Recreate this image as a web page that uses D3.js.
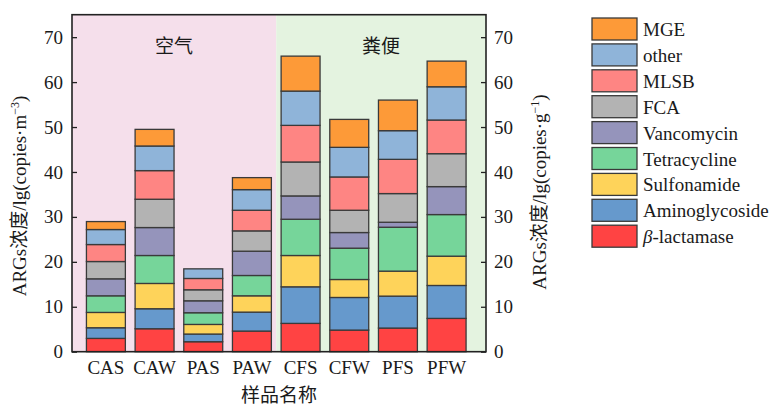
<!DOCTYPE html>
<html>
<head>
<meta charset="utf-8">
<script src="https://cdn.jsdelivr.net/npm/d3@7"></script>
<style>
  body { margin: 0; background: #fff; }
  svg text { font-family: "Times New Roman", "Liberation Serif", "DejaVu Serif", "Noto Sans CJK SC", serif; fill: #1a1a1a; }
</style>
</head>
<body>
<svg width="776" height="407"></svg>
<script>
const samples = ["CAS", "CAW", "PAS", "PAW", "CFS", "CFW", "PFS", "PFW"];
const categories = ["β-lactamase", "Aminoglycoside", "Sulfonamide", "Tetracycline", "Vancomycin", "FCA", "MLSB", "other", "MGE"];
const colors = ["#ff4343", "#6699cc", "#fed35a", "#76d59a", "#9594bb", "#b3b3b3", "#fe8583", "#8fb4d9", "#fd9a38"];

const betaLactamase  = [2.96, 5.11, 2.22, 4.59, 6.30, 4.81, 5.26, 7.41];
const aminoglycoside = [2.37, 4.45, 1.71, 4.22, 8.14, 7.26, 7.11, 7.33];
const sulfonamide    = [3.41, 5.63, 2.14, 3.63, 6.97, 4.00, 5.56, 6.52];
const tetracycline   = [3.70, 6.22, 2.60, 4.52, 8.07, 6.97, 9.77, 9.26];
const vancomycin     = [3.78, 6.22, 2.66, 5.41, 5.19, 3.48, 1.11, 6.22];
const fca            = [3.85, 6.30, 2.45, 4.52, 7.55, 4.96, 6.38, 7.33];
const mlsb           = [3.78, 6.37, 2.52, 4.59, 8.15, 7.41, 7.62, 7.49];
const other          = [3.34, 5.48, 2.14, 4.59, 7.63, 6.59, 6.38, 7.40];
const mge            = [1.77, 3.70, 0.00, 2.67, 7.78, 6.22, 6.81, 5.71];

const yTicks = [0, 10, 20, 30, 40, 50, 60, 70];
const groups = [
  { label: "空气", fill: "#f5dfeb" },
  { label: "粪便", fill: "#e4f3e0" }
];

const series = [betaLactamase, aminoglycoside, sulfonamide, tetracycline, vancomycin, fca, mlsb, other, mge];
const rows = samples.map((s, i) => {
  const r = { sample: s };
  categories.forEach((c, j) => r[c] = series[j][i]);
  return r;
});

const font = '"Times New Roman", "Liberation Serif", "DejaVu Serif", "Noto Sans CJK SC", serif';
const svg = d3.select("svg");
const plotL = 72, plotR = 486, plotT = 14.7, plotB = 351.7;

const x = d3.scaleBand()
  .domain(samples)
  .range([plotL, plotR])
  .paddingInner(0.2)
  .paddingOuter(0.353)
  .align(0.42);

const y = d3.scaleLinear().domain([0, 75]).range([plotB, plotT]);
const color = d3.scaleOrdinal().domain(categories).range(colors);

// background panels
const half = x.step() * x.paddingInner() / 2;
const edges = [plotL, x("PAW") + x.bandwidth() + half, plotR];
groups.forEach((g, i) => {
  svg.append("rect")
    .attr("x", edges[i]).attr("y", plotT)
    .attr("width", edges[i + 1] - edges[i]).attr("height", plotB - plotT)
    .attr("fill", g.fill);
  svg.append("text")
    .attr("x", (edges[i] + edges[i + 1]) / 2).attr("y", 53)
    .attr("text-anchor", "middle")
    .style("font-size", "19px")
    .text(g.label);
});

// stacked bars
const stacked = d3.stack().keys(categories)(rows);
svg.append("g").selectAll("g")
  .data(stacked)
  .enter().append("g")
  .attr("fill", d => color(d.key))
  .selectAll("rect")
  .data(d => d.filter(p => p[1] - p[0] > 0))
  .enter().append("rect")
  .attr("x", d => x(d.data.sample))
  .attr("y", d => y(d[1]))
  .attr("width", x.bandwidth())
  .attr("height", d => y(d[0]) - y(d[1]))
  .attr("stroke", "#3a3a3a")
  .attr("stroke-width", 1.3);

// axes
const yl = svg.append("g")
  .attr("transform", `translate(${plotL},0)`)
  .call(d3.axisLeft(y).tickValues(yTicks).tickSize(-5).tickPadding(9));
const yr = svg.append("g")
  .attr("transform", `translate(${plotR},0)`)
  .call(d3.axisRight(y).tickValues(yTicks).tickSize(-5).tickPadding(8));
const xa = svg.append("g")
  .attr("transform", `translate(0,${plotB})`)
  .call(d3.axisBottom(x).tickSize(0).tickPadding(9));

[yl, yr, xa].forEach(a => {
  a.attr("font-family", null);
  a.select(".domain").remove();
  a.selectAll("line").attr("stroke", "#222").attr("stroke-width", 1.3);
  a.selectAll("text").style("font-size", "19px").attr("fill", "#1a1a1a")
    .style("font-family", font);
});

// frame
svg.append("rect")
  .attr("x", plotL).attr("y", plotT)
  .attr("width", plotR - plotL).attr("height", plotB - plotT)
  .attr("fill", "none").attr("stroke", "#222").attr("stroke-width", 1.6);

// axis titles
svg.append("text")
  .attr("transform", "translate(26,196) rotate(-90)")
  .attr("text-anchor", "middle")
  .style("font-size", "19px")
  .html('ARGs浓度/lg(copies·m<tspan dy="-7" style="font-size:12px">−3</tspan><tspan dy="7">)</tspan>');

svg.append("text")
  .attr("transform", "translate(546,192) rotate(-90)")
  .attr("text-anchor", "middle")
  .style("font-size", "19px")
  .html('ARGs浓度/lg(copies·g<tspan dy="-7" style="font-size:12px">−1</tspan><tspan dy="7">)</tspan>');

svg.append("text")
  .attr("x", (plotL + plotR) / 2).attr("y", 402)
  .attr("text-anchor", "middle")
  .style("font-size", "19px")
  .text("样品名称");

// legend (top to bottom: MGE ... β-lactamase)
const legendItems = categories.slice().reverse();
const legend = svg.append("g").attr("transform", "translate(592,18)");
const item = legend.selectAll("g")
  .data(legendItems)
  .enter().append("g")
  .attr("transform", (d, i) => `translate(0,${i * 25.9})`);
item.append("rect")
  .attr("width", 45).attr("height", 22)
  .attr("fill", d => color(d))
  .attr("stroke", "#3a3a3a").attr("stroke-width", 1.3);
item.append("text")
  .attr("x", 51).attr("y", 18)
  .style("font-size", "19px")
  .each(function(d) {
    const t = d3.select(this);
    if (d.startsWith("β")) {
      t.append("tspan").style("font-style", "italic").text("β");
      t.append("tspan").text(d.slice(1));
    } else {
      t.text(d);
    }
  });
</script>
</body>
</html>
